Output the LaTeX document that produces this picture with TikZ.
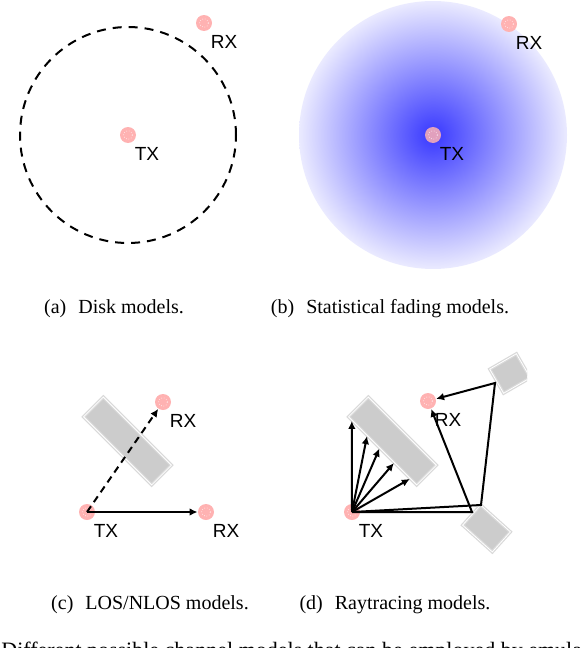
\documentclass[tikz,border=0pt]{standalone}
\usepackage{fontspec}
\setmainfont{Liberation Serif}
\setsansfont{Liberation Sans}
\usetikzlibrary{positioning,calc,arrows.meta}
\tikzset{
  dot/.style={circle,fill=red!30,minimum size=8pt,inner sep=0pt,
    path picture={\draw[white,densely dotted,line width=0.3pt] (path picture bounding box.center) circle (2.2pt);}},
  lbl/.style={font=\sffamily\fontsize{9.5}{11}\selectfont,inner sep=0pt,below right=6pt and 3.2pt of #1.center},
  subcap/.style={font=\fontsize{10}{12}\selectfont,inner sep=0pt},
  wall/.style={rectangle,fill=gray!40,draw=gray!30,double=white,double distance=0.4pt,line width=0.6pt,inner sep=0pt},
  ray/.style={-{Latex[length=4pt,width=3.8pt]},line width=1pt}
}
\begin{document}
\begin{tikzpicture}[x=0.5pt,y=-0.5pt]
\useasboundingbox (0,0) rectangle (582,648);
% (a) disk
\draw[line width=1pt,dash pattern=on 4.5pt off 3.5pt] (128,135) circle[radius=54pt];
\node[dot] (txa) at (128,135) {};
\node[dot] (rxa) at (204,23) {};
\node[lbl=txa] {TX};
\node[lbl=rxa] {RX};
\node[subcap] (capa) at (114,309) {(a)\hspace{6pt}Disk models.};
% (b) fading
\shade[inner color=blue!78,outer color=blue!8] (433,135) circle[radius=67pt];
\node[dot,fill opacity=0.85] (txb) at (433,135) {};
\node[dot] (rxb) at (509,24) {};
\node[lbl=txb] {TX};
\node[lbl=rxb] {RX};
\node[subcap] (capb) at (390,309) {(b)\hspace{6pt}Statistical fading models.};
% (c) LOS/NLOS
\node[wall,minimum width=48.2pt,minimum height=14pt,rotate=-45] (wallc) at (127.5,441) {};
\node[dot] (txc) at (87,512) {};
\node[dot] (rxc1) at (163,402) {};
\node[dot] (rxc2) at (206,512) {};
\node[lbl=txc] {TX};
\node[lbl=rxc1] {RX};
\node[lbl=rxc2] {RX};
\draw[ray] (txc.center) -- (rxc2);
\draw[ray,dash pattern=on 3.5pt off 2.5pt] (txc.center) -- (rxc1);
\node[subcap] (capc) at (150,605) {(c)\hspace{6pt}LOS/NLOS models.};
% (d) raytracing
\node[wall,minimum width=48.2pt,minimum height=14pt,rotate=-45] (walld) at (392.5,441) {};
\begin{scope}
\clip (460,330) rectangle (527,420);
\node[wall,minimum width=15.4pt,minimum height=13.9pt,rotate=30] (walle) at (510,373.5) {};
\end{scope}
\node[wall,minimum width=20pt,minimum height=13.5pt,rotate=-42] (wallf) at (486.5,528.5) {};
\node[dot] (txd) at (352,512) {};
\node[dot] (rxd) at (428,401) {};
\node[lbl=txd] {TX};
\node[lbl=rxd] {RX};
\foreach \t in {0.06,0.28,0.46,0.67,0.9}
  \draw[ray] (txd.center) -- ($(walld.south west)!\t!(walld.south east)$);
\coordinate (hita) at (481,505);
\coordinate (hitb) at (472,512);
\coordinate (hitc) at (495,383);
\draw[ray] (txd.center) -- (hita) -- (hitc) -- (rxd);
\draw[ray] (txd.center) -- (hitb) -- (rxd);
\node[subcap] (capd) at (395,605) {(d)\hspace{6pt}Raytracing models.};
% figure caption, cut by the page edge
\begin{scope}
\clip (0,0) rectangle (582,648);
\node[inner sep=0pt,anchor=base west,font=\fontsize{11}{13}\selectfont] (figcap) at (1,657) {Different possible channel models that can be employed by emulators};
\end{scope}
\end{tikzpicture}
\end{document}
